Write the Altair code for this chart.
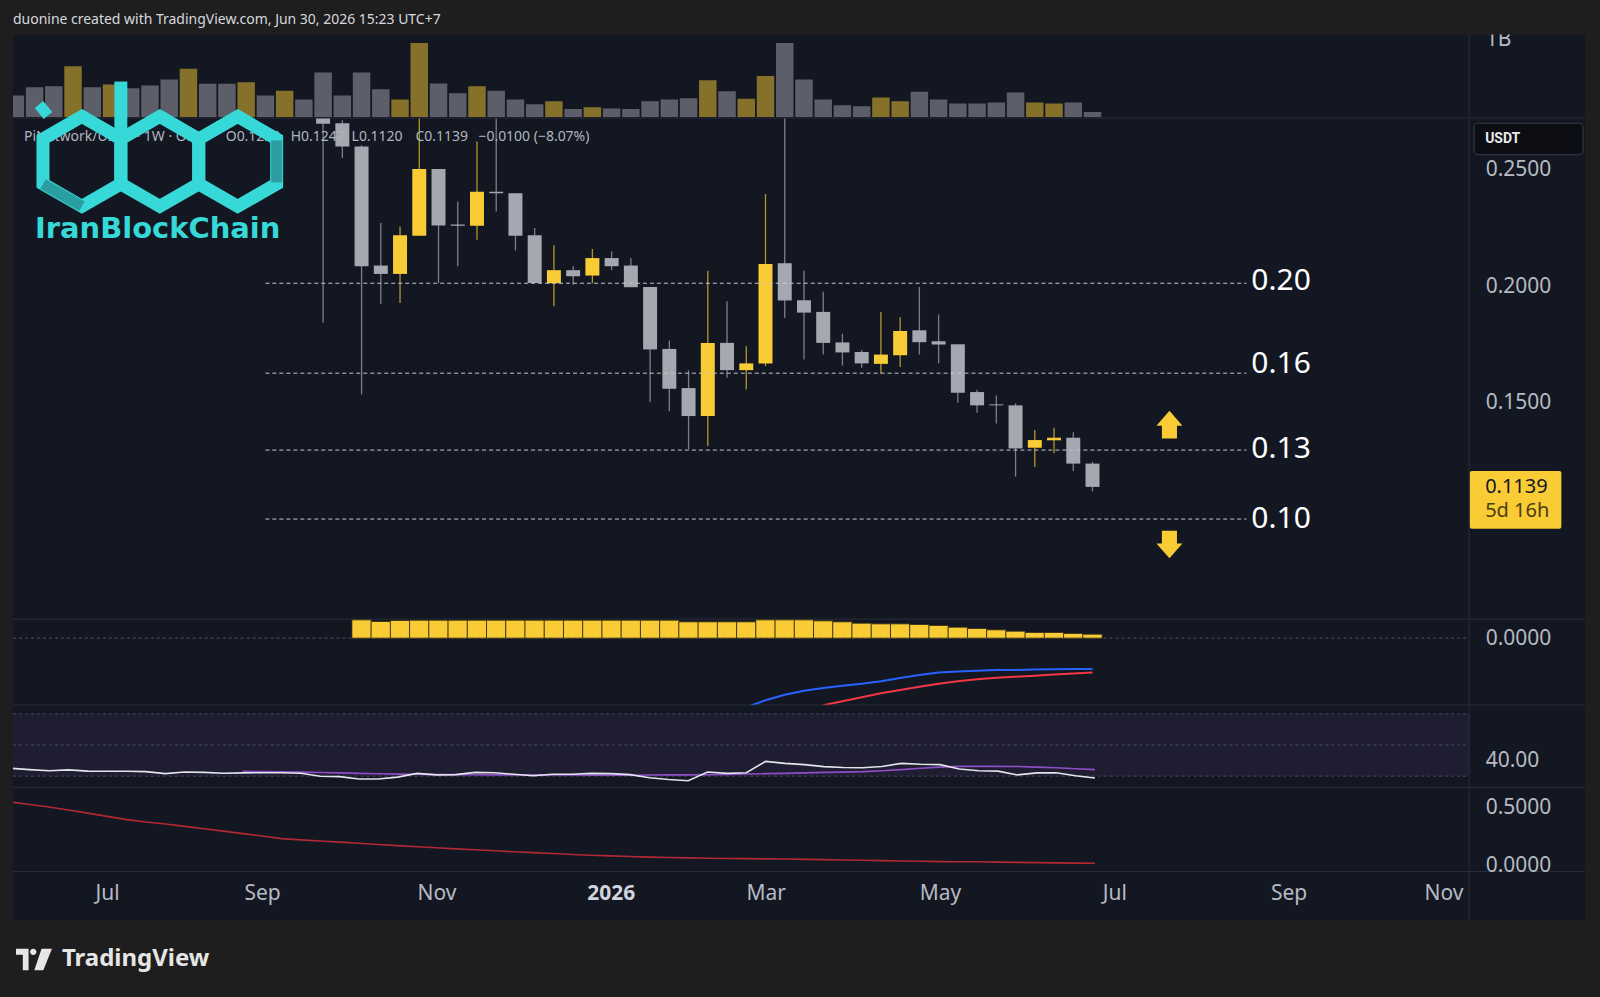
import altair as alt
import pandas as pd

# ---------------- data ----------------
weeks = ["2025-06-02", "2025-06-09", "2025-06-16", "2025-06-23", "2025-06-30",
         "2025-07-07", "2025-07-14", "2025-07-21", "2025-07-28",
         "2025-08-04", "2025-08-11", "2025-08-18", "2025-08-25",
         "2025-09-01", "2025-09-08", "2025-09-15", "2025-09-22", "2025-09-29",
         "2025-10-06", "2025-10-13", "2025-10-20", "2025-10-27",
         "2025-11-03", "2025-11-10", "2025-11-17", "2025-11-24",
         "2025-12-01", "2025-12-08", "2025-12-15", "2025-12-22", "2025-12-29",
         "2026-01-05", "2026-01-12", "2026-01-19", "2026-01-26",
         "2026-02-02", "2026-02-09", "2026-02-16", "2026-02-23",
         "2026-03-02", "2026-03-09", "2026-03-16", "2026-03-23", "2026-03-30",
         "2026-04-06", "2026-04-13", "2026-04-20", "2026-04-27",
         "2026-05-04", "2026-05-11", "2026-05-18", "2026-05-25",
         "2026-06-01", "2026-06-08", "2026-06-15", "2026-06-22", "2026-06-29"]

volume_m = [277, 385, 398, 654, 385, 420, 372, 407, 485, 623, 429, 429, 450, 277, 338, 225,
            576, 277, 576, 359, 225, 957, 433, 307, 398, 338, 225, 165, 203, 104, 126, 108,
            104, 203, 225, 242, 476, 333, 234, 528, 957, 485, 225, 152, 139, 251, 203, 325,
            225, 173, 173, 186, 316, 186, 173, 186, 65]
volume_rising = [False, False, False, True, False, True, False, False, False, True, False, False,
                 True, False, True, False, False, False, False, False, True, True, False, False,
                 True, False, False, False, True, False, True, False, False, False, False, False,
                 True, False, True, True, False, False, False, False, False, True, True, False,
                 False, False, False, False, False, True, True, False, False]

candle_open = [0.2760, 0.2700, 0.2600, 0.2089, 0.2053, 0.2217, 0.2503, 0.2265, 0.2260, 0.2406,
               0.2399, 0.2219, 0.2013, 0.2069, 0.2046, 0.2121, 0.2089, 0.1997, 0.1731, 0.1563,
               0.1443, 0.1757, 0.1640, 0.1669, 0.2099, 0.1940, 0.1890, 0.1759, 0.1718, 0.1667,
               0.1704, 0.1811, 0.1764, 0.1751, 0.1546, 0.1493, 0.1489, 0.1307, 0.1339, 0.1350,
               0.1239]
candle_high = [0.2850, 0.2712, 0.2605, 0.2271, 0.2257, 0.2800, 0.2503, 0.2364, 0.2621, 0.2800,
               0.2399, 0.2250, 0.2176, 0.2086, 0.2160, 0.2150, 0.2121, 0.1997, 0.1767, 0.1639,
               0.2067, 0.1936, 0.1743, 0.2396, 0.2800, 0.2067, 0.1976, 0.1796, 0.1727, 0.1890,
               0.1867, 0.1997, 0.1879, 0.1751, 0.1556, 0.1531, 0.1497, 0.1383, 0.1393, 0.1374,
               0.1247]
candle_low = [0.1843, 0.2550, 0.1536, 0.1924, 0.1928, 0.2217, 0.2014, 0.2086, 0.2200, 0.2321,
              0.2153, 0.2014, 0.1914, 0.2007, 0.2013, 0.2069, 0.1996, 0.1503, 0.1464, 0.1300,
              0.1314, 0.1607, 0.1557, 0.1657, 0.1864, 0.1686, 0.1707, 0.1660, 0.1650, 0.1626,
              0.1654, 0.1707, 0.1669, 0.1500, 0.1457, 0.1411, 0.1183, 0.1224, 0.1283, 0.1207,
              0.1120]
candle_close = [0.2697, 0.2600, 0.2086, 0.2053, 0.2219, 0.2503, 0.2261, 0.2260, 0.2406, 0.2399,
                0.2217, 0.2014, 0.2069, 0.2043, 0.2121, 0.2086, 0.1996, 0.1729, 0.1560, 0.1443,
                0.1757, 0.1640, 0.1669, 0.2096, 0.1939, 0.1887, 0.1757, 0.1716, 0.1669, 0.1707,
                0.1808, 0.1760, 0.1750, 0.1543, 0.1489, 0.1489, 0.1304, 0.1340, 0.1350, 0.1239,
                0.1139]

osc_hist = [0.00366, 0.00334, 0.00354, 0.0036, 0.0036, 0.0036, 0.0036, 0.0036, 0.0036, 0.0036,
            0.0036, 0.0036, 0.0036, 0.0036, 0.0036, 0.0036, 0.0036, 0.00326, 0.00326, 0.00326,
            0.00326, 0.00366, 0.00366, 0.00366, 0.00346, 0.00326, 0.0030, 0.00286, 0.00286,
            0.00274, 0.00254, 0.0022, 0.00194, 0.00166, 0.0014, 0.00114, 0.00114, 0.00094, 0.0008]
osc_fast = [-0.01384, -0.01244, -0.01134, -0.01054, -0.00998, -0.00954, -0.00914, -0.00864,
            -0.00800, -0.00738, -0.00688, -0.00670, -0.00654, -0.00640, -0.00636, -0.00630,
            -0.00624, -0.00620, -0.00620]
osc_slow = [-0.01344, -0.01264, -0.01182, -0.01104, -0.01038, -0.00974, -0.00914, -0.00862,
            -0.00824, -0.00794, -0.00774, -0.00754, -0.00730, -0.00706, -0.00688]

rsi = [35.1, 34.2, 33.5, 34.0, 33.2, 33.1, 33.1, 32.9, 31.6, 32.7, 32.4, 31.9, 32.1, 32.2, 32.2,
       31.9, 29.9, 29.7, 28.2, 28.2, 29.4, 31.8, 30.8, 31.0, 32.4, 32.2, 31.2, 30.3, 31.2, 31.2,
       31.8, 31.6, 31.0, 29.0, 27.9, 27.1, 32.7, 31.8, 32.2, 39.5, 38.2, 37.4, 36.1, 35.6, 35.4,
       36.2, 38.2, 37.6, 37.4, 34.6, 33.5, 33.2, 30.8, 32.1, 32.2, 30.3, 28.8]
rsi_ma = [33.1, 32.9, 32.8, 32.6, 32.3, 32.1, 31.8, 31.5, 31.3, 31.2, 31.0, 31.0, 30.9, 30.8, 30.8,
          30.8, 30.8, 30.7, 30.6, 30.6, 30.6, 30.7, 30.8, 30.8, 31.0, 31.1, 31.4, 31.6, 31.8, 32.1,
          32.4, 32.6, 32.9, 33.5, 34.2, 35.1, 35.8, 36.3, 36.3, 36.3, 36.2, 35.8, 35.4, 34.8, 34.2]
rsi_band_levels = [70, 50, 30]

lower_line = [0.546, 0.524, 0.503, 0.476, 0.450, 0.422, 0.394, 0.373, 0.356, 0.336,
              0.315, 0.295, 0.274, 0.253, 0.231, 0.220, 0.211, 0.201, 0.191, 0.181,
              0.171, 0.161, 0.153, 0.143, 0.135, 0.127, 0.118, 0.111, 0.103, 0.095,
              0.088, 0.083, 0.077, 0.072, 0.069, 0.066, 0.063, 0.061, 0.059, 0.057,
              0.056, 0.053, 0.051, 0.047, 0.045, 0.042, 0.039, 0.037, 0.034, 0.033,
              0.032, 0.029, 0.027, 0.025, 0.023, 0.021, 0.020]

level_prices = [0.2013, 0.1627, 0.1297, 0.1001]
level_labels = ["0.20", "0.16", "0.13", "0.10"]
level_label_prices = [0.2021, 0.1666, 0.1301, 0.1001]
level_start = "2025-09-01"
level_end = "2026-08-24"

arrow_date = "2026-07-27"
arrow_up_price = 0.1406
arrow_down_price = 0.0892

month_ticks = ["2025-07-07", "2025-09-01", "2025-11-03", "2026-01-05", "2026-03-02",
               "2026-05-04", "2026-07-06", "2026-09-07", "2026-11-02"]

price_ticks = [0.15, 0.20, 0.25]
volume_ticks = [1000]
osc_ticks = [0]
rsi_ticks = [40]
lower_ticks = [0, 0.5]

header_text = "duonine created with TradingView.com, Jun 30, 2026 15:23 UTC+7"
symbol_text = "PiNetwork/USDT · 1W · OKX"
time_left = "5d 16h"

# ---------------- style ----------------
FONT = "Noto Sans"
BG_OUT = "#1E1E1E"
BG = "#131722"
SEP = "#2A2E39"
YEL = "#F9CB34"
GRY = "#A5A8B0"
YEL_W = "#B39530"
GRY_W = "#7C7F88"
AXT = "#B7BAC2"
CYAN = "#36D8D8"
TEAL = "#2A9EA0"

W = 1458
H_VOL, H_PRICE, H_OSC, H_RSI, H_LOW = 84, 501, 86, 83, 84

xscale = alt.Scale(type="utc", domain=[
    alt.DateTime(year=2025, month=6, date=2, hours=23, minutes=2, utc=True),
    alt.DateTime(year=2026, month=11, date=11, hours=6, minutes=14, utc=True)])

one = pd.DataFrame({"k": [0]})


def X(field="date"):
    return alt.X(f"{field}:T", scale=xscale, axis=None)


def raxis(values, fmt=None, expr=None):
    kw = dict(orient="right", values=values, domain=False, ticks=False, grid=False,
              labelPadding=16, labelFont=FONT, labelFontSize=21, labelColor=AXT,
              title=None, zindex=1)
    if fmt:
        kw["format"] = fmt
    if expr:
        kw["labelExpr"] = expr
    return alt.Axis(**kw)


def px_rect(x1, x2, y1, y2, **kw):
    return alt.Chart(one).mark_rect(**kw).encode(
        x=alt.value(x1), x2=alt.value(x2), y=alt.value(y1), y2=alt.value(y2))


def px_rule(x1, x2, y1, y2, **kw):
    return alt.Chart(one).mark_rule(**kw).encode(
        x=alt.value(x1), x2=alt.value(x2), y=alt.value(y1), y2=alt.value(y2))


def px_text(x, y, txt, **kw):
    return alt.Chart(one).mark_text(text=txt, **kw).encode(x=alt.value(x), y=alt.value(y))


def px_point(x, y, **kw):
    return alt.Chart(one).mark_point(opacity=1, **kw).encode(x=alt.value(x), y=alt.value(y))


# ---------------- pane 1 : volume ----------------
vol_df = pd.DataFrame({"date": weeks, "vol": volume_m, "base": 0,
                       "dir": ["up" if r else "down" for r in volume_rising]})
ys_vol = alt.Scale(domain=[-19.4, 1064.5], nice=False, zero=False)
vol_axis = raxis(volume_ticks, expr="'1B'")
vol_bars = alt.Chart(vol_df).mark_bar(size=17.5, clip=True, opacity=0.5).encode(
    x=X(),
    y=alt.Y("vol:Q", scale=ys_vol, axis=vol_axis),
    y2="base:Q",
    color=alt.condition("datum.dir == 'up'", alt.value(YEL), alt.value(GRY)))

layers_vol = [px_rect(-12, 1588, -33, 964, color=BG_OUT),
              px_rect(0, 1574, 0, 887, color=BG)]
for yy in [83.5, 585.3, 671.3, 753.7, 838]:
    layers_vol.append(px_rule(0, 1574, yy, yy, color=SEP, strokeWidth=1))
layers_vol.append(px_rule(W, W, 0, 887, color=SEP, strokeWidth=1))
layers_vol.append(vol_bars)
pane_vol = alt.layer(*layers_vol).properties(width=W, height=H_VOL)

# ---------------- pane 2 : price ----------------
n = len(candle_open)
candle_df = pd.DataFrame({"date": weeks[-n:], "open": candle_open, "high": candle_high,
                          "low": candle_low, "close": candle_close})
up = "datum.close > datum.open"
ys_price = alt.Scale(domain=[0.05727, 0.27201], nice=False, zero=False)
price_axis = raxis(price_ticks, fmt=".4f")


def PY(field):
    return alt.Y(f"{field}:Q", scale=ys_price, axis=price_axis)


wicks = alt.Chart(candle_df).mark_rule(strokeWidth=1.3, clip=True).encode(
    x=X(), y=PY("low"), y2="high:Q",
    color=alt.condition(up, alt.value(YEL_W), alt.value(GRY_W)))
bodies = alt.Chart(candle_df).mark_bar(size=14, clip=True).encode(
    x=X(), y=PY("open"), y2="close:Q",
    color=alt.condition(up, alt.value(YEL), alt.value(GRY)))

lvl_df = pd.DataFrame({"price": level_prices, "label": level_labels,
                       "label_at": level_label_prices,
                       "start": level_start, "end": level_end})
lvl_rules = alt.Chart(lvl_df).mark_rule(strokeDash=[4, 3], strokeWidth=1, color="#C5C8CF").encode(
    x=X("start"), x2="end:T", y=PY("price"))
lvl_text = alt.Chart(lvl_df).mark_text(align="left", baseline="middle", dx=5, font=FONT,
                                       fontSize=30, color="#FFFFFF").encode(
    x=X("end"), y=PY("label_at"), text="label:N")

UP_ARROW = "M0,-1.07 L1,0.08 L0.58,0.08 L0.58,1.06 L-0.58,1.06 L-0.58,0.08 L-1,0.08 Z"
DOWN_ARROW = "M0,1.07 L1,-0.08 L0.58,-0.08 L0.58,-1.06 L-0.58,-1.06 L-0.58,-0.08 L-1,-0.08 Z"
arr_up = alt.Chart(pd.DataFrame({"date": [arrow_date], "price": [arrow_up_price]})).mark_point(
    shape=UP_ARROW, size=676, filled=True, color=YEL, opacity=1, strokeWidth=0).encode(
    x=X(), y=PY("price"))
arr_dn = alt.Chart(pd.DataFrame({"date": [arrow_date], "price": [arrow_down_price]})).mark_point(
    shape=DOWN_ARROW, size=676, filled=True, color=YEL, opacity=1, strokeWidth=0).encode(
    x=X(), y=PY("price"))

last_close = candle_close[-1]
prev_close = candle_close[-2]
last_df = pd.DataFrame({"close": [last_close], "txt": [f"{last_close:.4f}"], "left": [time_left]})
price_box = alt.Chart(last_df).mark_rect(color=YEL, cornerRadius=2, yOffset=-16, y2Offset=42).encode(
    x=alt.value(1458.7), x2=alt.value(1550.3), y=PY("close"), y2="close:Q")
price_txt = alt.Chart(last_df).mark_text(align="left", baseline="middle", dy=0, font=FONT,
                                         fontSize=20, color="#131722").encode(
    x=alt.value(1474), y=PY("close"), text="txt:N")
left_txt = alt.Chart(last_df).mark_text(align="left", baseline="middle", dy=24, font=FONT,
                                        fontSize=20, color="#4A3D10").encode(
    x=alt.value(1474), y=PY("close"), text="left:N")

chg = last_close - prev_close
pct = chg / prev_close * 100
legend_parts = [
    (symbol_text, 11),
    (f"O{candle_open[-1]:.4f}", 213),
    (f"H{candle_high[-1]:.4f}", 278),
    (f"L{candle_low[-1]:.4f}", 339),
    (f"C{last_close:.4f}", 403),
    (f"{chg:+.4f} ({pct:+.2f}%)".replace("-", "\u2212"), 466),
]
legend_layers = [px_text(px, 18.7, t, align="left", baseline="middle", font=FONT, fontSize=14,
                         color="#B2B5BE") for t, px in legend_parts]

HEX = "M0,-1 L0.866,-0.5 L0.866,0.5 L0,1 L-0.866,0.5 L-0.866,-0.5 Z"
logo_layers = [px_point(cx, 43, shape=HEX, size=8100, filled=False, strokeWidth=13, color=CYAN)
               for cx in [69, 147, 225]]
logo_layers += [
    # darker, textured parts of the watermark
    px_rule(30, 69, 65.5, 88, color=TEAL, strokeWidth=11),
    px_rule(264, 264, 22, 64, color=TEAL, strokeWidth=11),
    px_rule(108, 108, -37, 22, color=CYAN, strokeWidth=13),
    px_rule(26, 35, -14, -3, color=CYAN, strokeWidth=11),
    px_text(22, 120, "IranBlockChain", align="left", baseline="alphabetic",
            font="DejaVu Sans", fontSize=29, fontWeight="bold", color=CYAN),
]

usdt_layers = [
    px_rect(1463, 1572, 4.7, 36.3, color="#0C0E13", stroke="#3A3E4A", strokeWidth=1, cornerRadius=4),
    px_text(1474, 21, "USDT", align="left", baseline="middle", font="Roboto", fontSize=14,
            fontWeight="bold", color="#E8E9ED"),
]
header_layers = [
    px_rect(-12, 1588, -117, -84, color=BG_OUT),
    px_text(0, -99, header_text, align="left", baseline="middle", font=FONT, fontSize=14,
            color="#D7D9DE"),
]

pane_price = alt.layer(wicks, bodies, lvl_rules, lvl_text, arr_up, arr_dn, price_box, price_txt,
                       left_txt, *usdt_layers, *legend_layers, *logo_layers,
                       *header_layers).properties(width=W, height=H_PRICE)

# ---------------- pane 3 : oscillator ----------------
ys_osc = alt.Scale(domain=[-0.01334, 0.00386], nice=False, zero=False)
osc_axis = raxis(osc_ticks, fmt=".4f")
hist_df = pd.DataFrame({"date": weeks[-len(osc_hist):], "v": osc_hist, "base": 0.0})
fast_df = pd.DataFrame({"date": weeks[-len(osc_fast):], "v": osc_fast})
slow_df = pd.DataFrame({"date": weeks[-len(osc_slow):], "v": osc_slow})
zero_df = pd.DataFrame({"v": [0.0]})

hist = alt.Chart(hist_df).mark_bar(size=19.4, color=YEL, stroke="#2A2614", strokeWidth=0.8,
                                   clip=True).encode(
    x=X(), y=alt.Y("v:Q", scale=ys_osc, axis=osc_axis), y2="base:Q")
zero_rule = alt.Chart(zero_df).mark_rule(strokeDash=[3, 3], color="#787B86", opacity=0.6).encode(
    x=alt.value(0), x2=alt.value(W), y=alt.Y("v:Q", scale=ys_osc, axis=osc_axis))
fast_line = alt.Chart(fast_df).mark_line(color="#2962FF", strokeWidth=2, clip=True).encode(
    x=X(), y=alt.Y("v:Q", scale=ys_osc, axis=osc_axis))
slow_line = alt.Chart(slow_df).mark_line(color="#F23645", strokeWidth=2, clip=True).encode(
    x=X(), y=alt.Y("v:Q", scale=ys_osc, axis=osc_axis))
pane_osc = alt.layer(zero_rule, hist, fast_line, slow_line).properties(width=W, height=H_OSC)

# ---------------- pane 4 : RSI ----------------
ys_rsi = alt.Scale(domain=[22.63, 75.83], nice=False, zero=False)
rsi_axis = raxis(rsi_ticks, fmt=".2f")
band_df = pd.DataFrame({"hi": [max(rsi_band_levels)], "lo": [min(rsi_band_levels)]})
lvl_rsi_df = pd.DataFrame({"v": rsi_band_levels})
rsi_df = pd.DataFrame({"date": weeks[-len(rsi):], "v": rsi})
rsima_df = pd.DataFrame({"date": weeks[-len(rsi_ma):], "v": rsi_ma})

band = alt.Chart(band_df).mark_rect(color="#7E57C2", opacity=0.1).encode(
    x=alt.value(0), x2=alt.value(W), y=alt.Y("hi:Q", scale=ys_rsi, axis=rsi_axis), y2="lo:Q")
band_rules = alt.Chart(lvl_rsi_df).mark_rule(strokeDash=[3, 3], color="#787B86", opacity=0.5).encode(
    x=alt.value(0), x2=alt.value(W), y=alt.Y("v:Q", scale=ys_rsi, axis=rsi_axis))
rsi_line = alt.Chart(rsi_df).mark_line(color="#E3E5EA", strokeWidth=1.6, clip=True).encode(
    x=X(), y=alt.Y("v:Q", scale=ys_rsi, axis=rsi_axis))
rsima_line = alt.Chart(rsima_df).mark_line(color="#8E4FC6", strokeWidth=1.6, clip=True).encode(
    x=X(), y=alt.Y("v:Q", scale=ys_rsi, axis=rsi_axis))
pane_rsi = alt.layer(band, band_rules, rsima_line, rsi_line).properties(width=W, height=H_RSI)

# ---------------- pane 5 : lower line + time axis ----------------
ys_low = alt.Scale(domain=[-0.0514, 0.6684], nice=False, zero=False)
low_df = pd.DataFrame({"date": weeks[-len(lower_line):], "v": lower_line})

tick_dates = []
for s in month_ticks:
    yy, mm, dd = (int(p) for p in s.split("-"))
    tick_dates.append(alt.DateTime(year=yy, month=mm, date=dd, utc=True))
is_year = "utcmonth(datum.value) === 0"
xaxis = alt.Axis(
    values=tick_dates,
    labelExpr=f"{is_year} ? utcFormat(datum.value, '%Y') : utcFormat(datum.value, '%b')",
    labelFontWeight={"condition": {"test": is_year, "value": "bold"}, "value": "normal"},
    labelColor={"condition": {"test": is_year, "value": "#D1D4DC"}, "value": AXT},
    labelFont=FONT, labelFontSize=21, labelPadding=22, labelBaseline="middle",
    domain=False, ticks=False, grid=False, title=None, labelFlush=False, labelOverlap=False,
    zindex=1)

low_line = alt.Chart(low_df).mark_line(color="#B22833", strokeWidth=1.6, clip=True).encode(
    x=alt.X("date:T", scale=xscale, axis=xaxis),
    y=alt.Y("v:Q", scale=ys_low, axis=raxis(lower_ticks, fmt=".4f")))

TV = ("M-1,-0.6 L-0.3,-0.6 L-0.3,0.6 L-0.62,0.6 L-0.62,-0.26 L-1,-0.26 Z "
      "M-0.22,-0.42 A0.18,0.18 0 1,0 0.14,-0.42 A0.18,0.18 0 1,0 -0.22,-0.42 Z "
      "M0.42,-0.6 L1,-0.6 L0.52,0.6 L0.02,0.6 Z")
footer_layers = [
    px_point(21, 172, shape=TV, size=1296, filled=True, color="#E6E6E6", strokeWidth=0),
    px_text(49, 172, "TradingView", align="left", baseline="middle", font=FONT, fontSize=24,
            fontWeight="bold", color="#E6E6E6"),
]
pane_low = alt.layer(low_line, *footer_layers).properties(width=W, height=H_LOW)

chart = alt.vconcat(pane_vol, pane_price, pane_osc, pane_rsi, pane_low,
                    spacing=0, bounds="flush").properties(
    padding=0, background=BG_OUT).configure_view(stroke="transparent")

chart.save("out.html", embed_options={"renderer": "svg", "actions": False})
